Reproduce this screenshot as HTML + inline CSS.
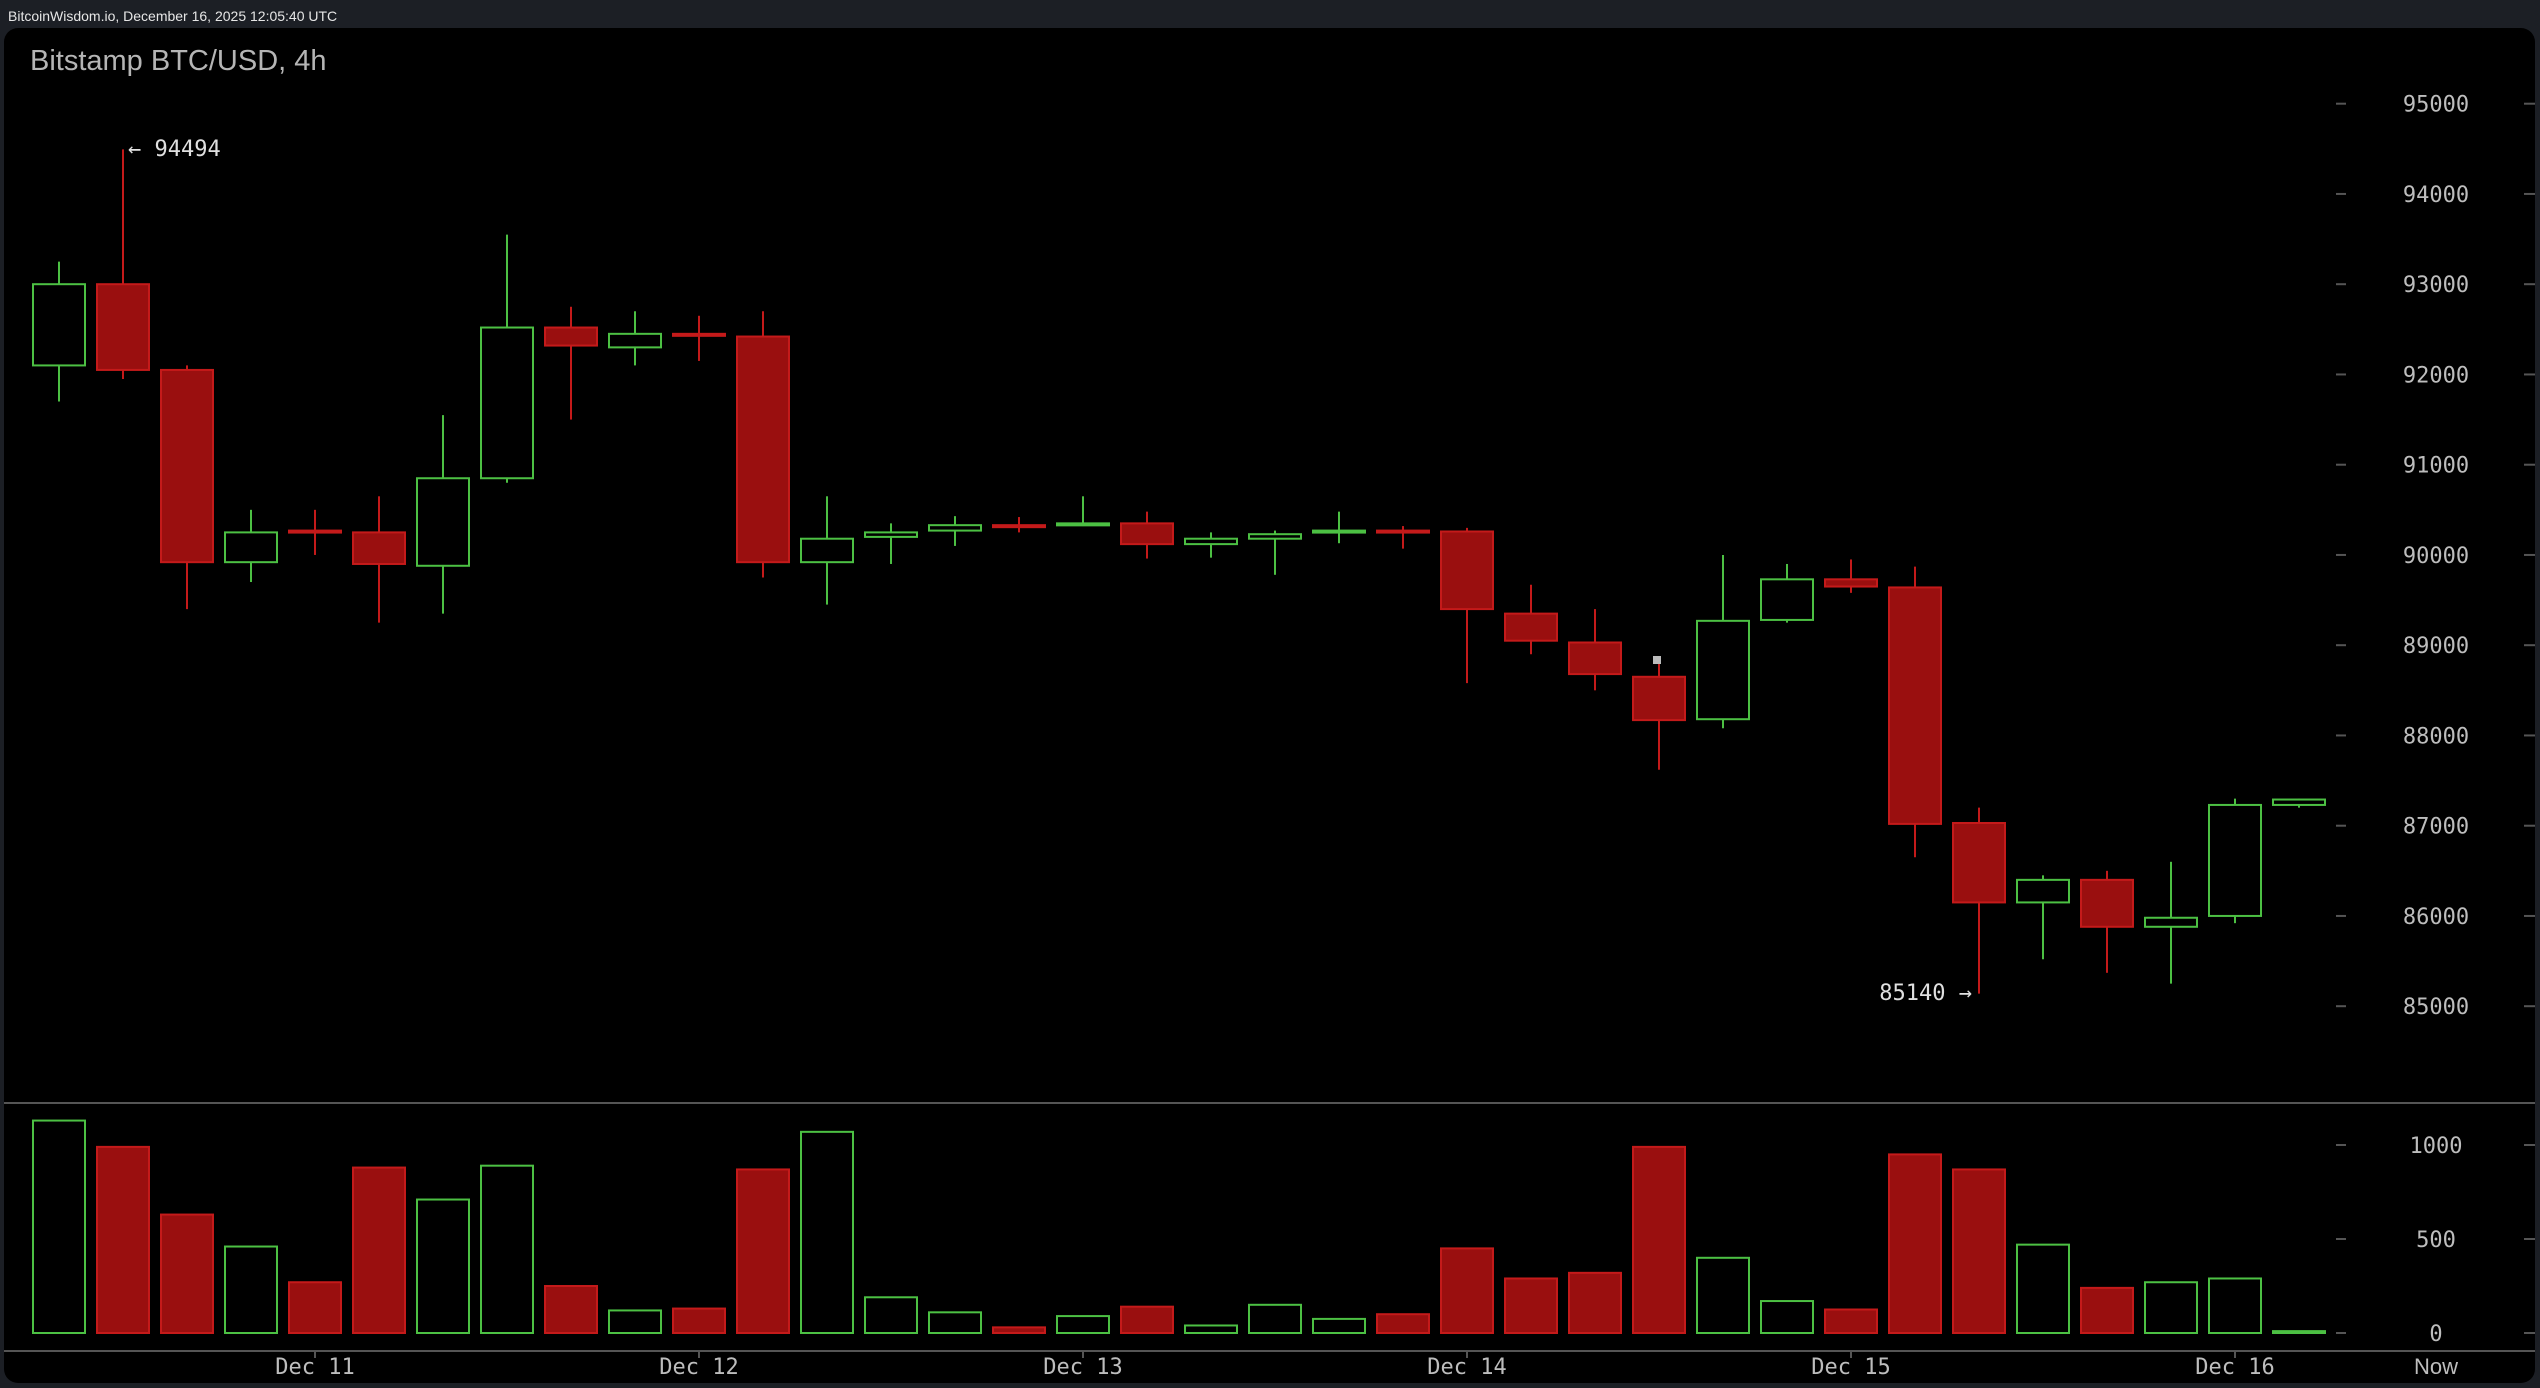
<!DOCTYPE html>
<html><head><meta charset="utf-8"><style>
html,body{margin:0;padding:0;background:#1c1f25;width:2540px;height:1388px;overflow:hidden}
</style></head><body>
<svg id="s" width="2540" height="1388" xmlns="http://www.w3.org/2000/svg">
<rect x="0" y="0" width="2540" height="1388" fill="#1c1f25"/>
<text x="8" y="21" font-family="Liberation Sans, sans-serif" font-size="14" fill="#e6e6e6">BitcoinWisdom.io, December 16, 2025 12:05:40 UTC</text>
<rect x="4" y="28" width="2531" height="1355" rx="14" fill="#000"/>
<text x="30" y="70" font-family="Liberation Sans, sans-serif" font-size="29" fill="#b5b5b5">Bitstamp BTC/USD, 4h</text>
<line x1="4" y1="1103" x2="2535" y2="1103" stroke="#555" stroke-width="2"/>
<line x1="4" y1="1351" x2="2535" y2="1351" stroke="#555" stroke-width="2"/>
<g id="g"></g>
</svg>
<script>
var d=[[92100,93250,91700,93000,1130],[93000,94494,91950,92050,990],[92050,92100,89400,89920,630],[89920,90500,89700,90250,460],[90270,90500,90000,90250,270],[90250,90650,89250,89900,880],[89880,91550,89350,90850,710],[90850,93550,90800,92520,890],[92520,92750,91500,92320,250],[92300,92700,92100,92450,120],[92450,92650,92150,92430,130],[92420,92700,89750,89920,870],[89920,90650,89450,90180,1070],[90200,90350,89900,90250,190],[90270,90430,90100,90330,110],[90330,90420,90250,90320,30],[90330,90650,90320,90350,90],[90350,90480,89960,90120,140],[90120,90250,89970,90180,40],[90180,90270,89780,90230,150],[90250,90480,90130,90270,75],[90270,90320,90070,90250,100],[90260,90300,88580,89400,450],[89350,89670,88900,89050,290],[89030,89400,88500,88680,320],[88650,88800,87620,88170,990],[88180,90000,88080,89270,400],[89280,89900,89250,89730,170],[89730,89950,89580,89650,125],[89640,89870,86650,87020,950],[87030,87200,85140,86150,870],[86150,86450,85520,86400,470],[86400,86500,85370,85880,240],[85880,86600,85250,85980,270],[86000,87300,85920,87230,290],[87230,87300,87200,87290,10]];
function py(p){return 103.7+(95000-p)*0.09025}
function vy(v){return 1333-v*0.188}
var h='';var mono='font-family="DejaVu Sans Mono, Liberation Mono, monospace"';
for(var p=85000;p<=95000;p+=1000){var y=py(p);h+='<line x1="2336" y1="'+y+'" x2="2346" y2="'+y+'" stroke="#555" stroke-width="2"/><line x1="2524" y1="'+y+'" x2="2535" y2="'+y+'" stroke="#555" stroke-width="2"/><text x="2436" y="'+(y+8)+'" text-anchor="middle" '+mono+' font-size="22" fill="#bdbdbd">'+p+'</text>';}
[0,500,1000].forEach(function(v){var y=vy(v);h+='<line x1="2336" y1="'+y+'" x2="2346" y2="'+y+'" stroke="#555" stroke-width="2"/><line x1="2524" y1="'+y+'" x2="2535" y2="'+y+'" stroke="#555" stroke-width="2"/><text x="2436" y="'+(y+8)+'" text-anchor="middle" '+mono+' font-size="22" fill="#bdbdbd">'+v+'</text>';});
for(var i=0;i<d.length;i++){var c=d[i],x=59+i*64,up=c[3]>=c[0];var col=up?'#4cc043':'#c41a1a';var fill=up?'#000':'#9a0f0f';
var t=py(Math.max(c[0],c[3])),b=py(Math.min(c[0],c[3]));if(b-t<2)b=t+2;
h+='<line x1="'+x+'" y1="'+py(c[1])+'" x2="'+x+'" y2="'+py(c[2])+'" stroke="'+col+'" stroke-width="2"/>';
h+='<rect x="'+(x-26)+'" y="'+t+'" width="52" height="'+(b-t)+'" fill="'+fill+'" stroke="'+col+'" stroke-width="2"/>';
var vt=vy(c[4]);h+='<rect x="'+(x-26)+'" y="'+vt+'" width="52" height="'+(1333-vt)+'" fill="'+fill+'" stroke="'+col+'" stroke-width="2"/>';}
h+='<rect x="1653" y="656" width="8" height="8" fill="#bbb"/>';
h+='<text x="128" y="156" '+mono+' font-size="22" fill="#e0e0e0">← 94494</text>';
h+='<text x="1972" y="1000" text-anchor="end" '+mono+' font-size="22" fill="#e0e0e0">85140 →</text>';
var days=['Dec 11','Dec 12','Dec 13','Dec 14','Dec 15','Dec 16'];
for(var k=0;k<6;k++){var x=59+(4+6*k)*64;h+='<line x1="'+x+'" y1="1351" x2="'+x+'" y2="1358" stroke="#555" stroke-width="2"/><text x="'+x+'" y="1374" text-anchor="middle" '+mono+' font-size="22" fill="#bdbdbd">'+days[k]+'</text>';}
h+='<text x="2436" y="1374" text-anchor="middle" font-family="Liberation Sans, sans-serif" font-size="22" fill="#bdbdbd">Now</text>';
document.getElementById('g').innerHTML=h;
</script>
</body></html>
